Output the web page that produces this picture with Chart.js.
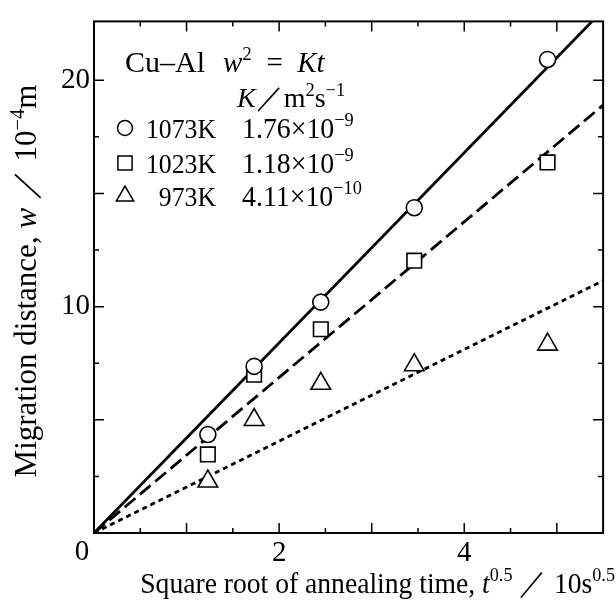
<!DOCTYPE html>
<html>
<head>
<meta charset="utf-8">
<script src="https://cdn.jsdelivr.net/npm/chart.js@4/dist/chart.umd.min.js"></script>
<style>
  html, body { margin: 0; padding: 0; background: #fff; }
  #wrap { width: 616px; height: 601px; }
</style>
</head>
<body>
<div id="wrap"><canvas id="chart" width="616" height="601"></canvas></div>
<script>
// data (x = t^0.5 / 10 s^0.5, y = w / 1e-4 m)
var sqrtTime = [1.23, 1.73, 2.45, 3.46, 4.9];
var w1073 = [4.35, 7.36, 10.2, 14.37, 20.92];
var w1023 = [3.47, 6.99, 9.0, 12.03, 16.37];
var w973 = [2.28, 5.0, 6.6, 7.42, 8.33];

// straight lines w = sqrt(K t), endpoints read at x = 0 and x = 5.5
var fitX = [0, 5.5];
var fit1073 = [0, 23.1];
var fit1023 = [0, 18.9];
var fit973 = [0, 11.15];

var xTicks = [2, 4];
var yTicks = [10, 20];

var serif = "'Liberation Serif', 'DejaVu Serif', serif";

function pts(xs, ys) {
    return xs.map(function (x, i) { return { x: x, y: ys[i] }; });
}

function markerSet(label, ys, style, r) {
    return {
        label: label,
        data: pts(sqrtTime, ys),
        showLine: false,
        pointStyle: style,
        pointRadius: r,
        pointBorderWidth: 1.6,
        pointBorderColor: '#000',
        pointBackgroundColor: '#fff',
        order: 0
    };
}

function fitSet(ys, dash) {
    return {
        data: pts(fitX, ys),
        showLine: true,
        borderColor: '#000',
        borderWidth: 2.8,
        borderDash: dash,
        pointRadius: 0,
        fill: false,
        order: 1
    };
}

// rich text: parts = [[text, italic, sup]], sx = horizontal squeeze
function setFont(ctx, p, size) {
    var s = p[2] ? size * 0.66 : size;
    ctx.font = (p[1] ? 'italic ' : '') + s + 'px ' + serif;
}

function drawRich(ctx, parts, x, y, size, align, sx) {
    sx = sx || 1;
    var w = 0;
    parts.forEach(function (p) { setFont(ctx, p, size); w += ctx.measureText(p[0]).width; });
    w *= sx;
    if (align === 'center') x -= w / 2;
    if (align === 'right') x -= w;
    ctx.save();
    ctx.translate(x, y);
    ctx.scale(sx, 1);
    ctx.textAlign = 'left';
    ctx.textBaseline = 'alphabetic';
    var cx = 0;
    parts.forEach(function (p) {
        setFont(ctx, p, size);
        ctx.fillText(p[0], cx, p[2] ? -size * 0.4 : 0);
        cx += ctx.measureText(p[0]).width;
    });
    ctx.restore();
}

function legendMark(ctx, style, r, x, y) {
    ctx.save();
    ctx.fillStyle = '#fff';
    ctx.strokeStyle = '#000';
    ctx.lineWidth = 1.5;
    Chart.helpers.drawPoint(ctx, { pointStyle: style, radius: r, rotation: 0, borderWidth: 1.5 }, x, y);
    ctx.restore();
}

var framePlugin = {
    id: 'frame',
    afterDraw: function (chart) {
        var ctx = chart.ctx;
        var a = chart.chartArea;
        var xs = chart.scales.x, ys = chart.scales.y;
        ctx.save();
        ctx.strokeStyle = '#000';
        ctx.lineWidth = 2;
        ctx.strokeRect(a.left, a.top, a.right - a.left, a.bottom - a.top);

        // inward ticks on all four sides
        ctx.lineWidth = 1.5;
        ctx.beginPath();
        xs.ticks.forEach(function (t) {
            var px = xs.getPixelForValue(t.value);
            if (t.value <= 0 || px >= a.right - 1) return;
            var len = (Math.abs(t.value - Math.round(t.value)) < 1e-6) ? 10 : 5;
            ctx.moveTo(px, a.bottom); ctx.lineTo(px, a.bottom - len);
            ctx.moveTo(px, a.top); ctx.lineTo(px, a.top + len);
        });
        ys.ticks.forEach(function (t) {
            var py = ys.getPixelForValue(t.value);
            if (t.value <= 0 || py <= a.top + 1) return;
            var len = (Math.abs(t.value / 5 - Math.round(t.value / 5)) < 1e-6) ? 10 : 5;
            ctx.moveTo(a.left, py); ctx.lineTo(a.left + len, py);
            ctx.moveTo(a.right, py); ctx.lineTo(a.right - len, py);
        });
        ctx.stroke();

        ctx.fillStyle = '#000';
        // shared origin label
        ctx.font = '29px ' + serif;
        ctx.textAlign = 'center';
        ctx.textBaseline = 'alphabetic';
        ctx.fillText('0', xs.getPixelForValue(0) - 12, ys.getPixelForValue(0) + 27);

        // axis titles
        drawRich(ctx, [['Square root of annealing time, ', false, false], ['t', true, false],
            ['0.5', false, true], [' \uFF0F 10s', false, false], ['0.5', false, true]],
            615, 593, 30, 'right', 0.92);

        ctx.save();
        ctx.translate(36, 281);
        ctx.rotate(-Math.PI / 2);
        drawRich(ctx, [['Migration distance, ', false, false], ['w', true, false],
            [' \uFF0F 10', false, false], ['\u22124', false, true], ['m', false, false]],
            0, 0, 31, 'center');
        ctx.restore();

        // key block
        drawRich(ctx, [['Cu\u2013Al', false, false]], 125, 72, 30, 'left');
        drawRich(ctx, [['w', true, false], ['2', false, true], ['\u2002=\u2002', false, false], ['Kt', true, false]], 223, 72, 29, 'left');
        drawRich(ctx, [['K', true, false], ['\uFF0F', false, false], ['m', false, false], ['2', false, true],
            ['s', false, false], ['\u22121', false, true]], 237, 107, 28, 'left');

        var rows = [
            ['circle', 7.5, 128, '1073K', ['1.76\u00D710', '\u22129']],
            ['rect', 10, 163, '1023K', ['1.18\u00D710', '\u22129']],
            ['triangle', 10, 196, '973K', ['4.11\u00D710', '\u221210']]
        ];
        rows.forEach(function (r) {
            legendMark(ctx, r[0], r[1], 125, r[2]);
            ctx.fillStyle = '#000';
            drawRich(ctx, [[r[3], false, false]], 216, r[2] + 10, 28, 'right', 0.92);
            drawRich(ctx, [[r[4][0], false, false], [r[4][1], false, true]], 242, r[2] + 10, 29, 'left', 0.96);
        });
        ctx.restore();
    }
};

var ctx = document.getElementById('chart').getContext('2d');
var myChart = new Chart(ctx, {
    type: 'scatter',
    data: {
        datasets: [
            fitSet(fit1073, []),
            fitSet(fit1023, [14, 6]),
            fitSet(fit973, [5, 4]),
            markerSet('1073K', w1073, 'circle', 8),
            markerSet('1023K', w1023, 'rect', 10.3),
            markerSet('973K', w973, 'triangle', 11.3)
        ]
    },
    options: {
        responsive: false,
        animation: false,
        layout: { padding: { top: 16, right: 8, left: 0, bottom: 0 } },
        plugins: {
            legend: { display: false },
            tooltip: { enabled: false }
        },
        scales: {
            x: {
                type: 'linear',
                min: 0,
                max: 5.5,
                grid: { display: false, drawTicks: false },
                border: { display: false },
                ticks: {
                    stepSize: 0.5,
                    autoSkip: false,
                    maxRotation: 0,
                    padding: 3,
                    color: '#000',
                    font: { family: serif, size: 29 },
                    callback: function (v) { return xTicks.indexOf(v) >= 0 ? String(v) : ''; }
                },
                afterFit: function (s) { s.height = 68; }
            },
            y: {
                min: 0,
                max: 22.6,
                grid: { display: false, drawTicks: false },
                border: { display: false },
                ticks: {
                    stepSize: 2.5,
                    autoSkip: false,
                    padding: 4,
                    color: '#000',
                    font: { family: serif, size: 29 },
                    callback: function (v) { return yTicks.indexOf(v) >= 0 ? String(v) : ''; }
                },
                afterFit: function (s) { s.width = 94; }
            }
        }
    },
    plugins: [framePlugin]
});
</script>
</body>
</html>
